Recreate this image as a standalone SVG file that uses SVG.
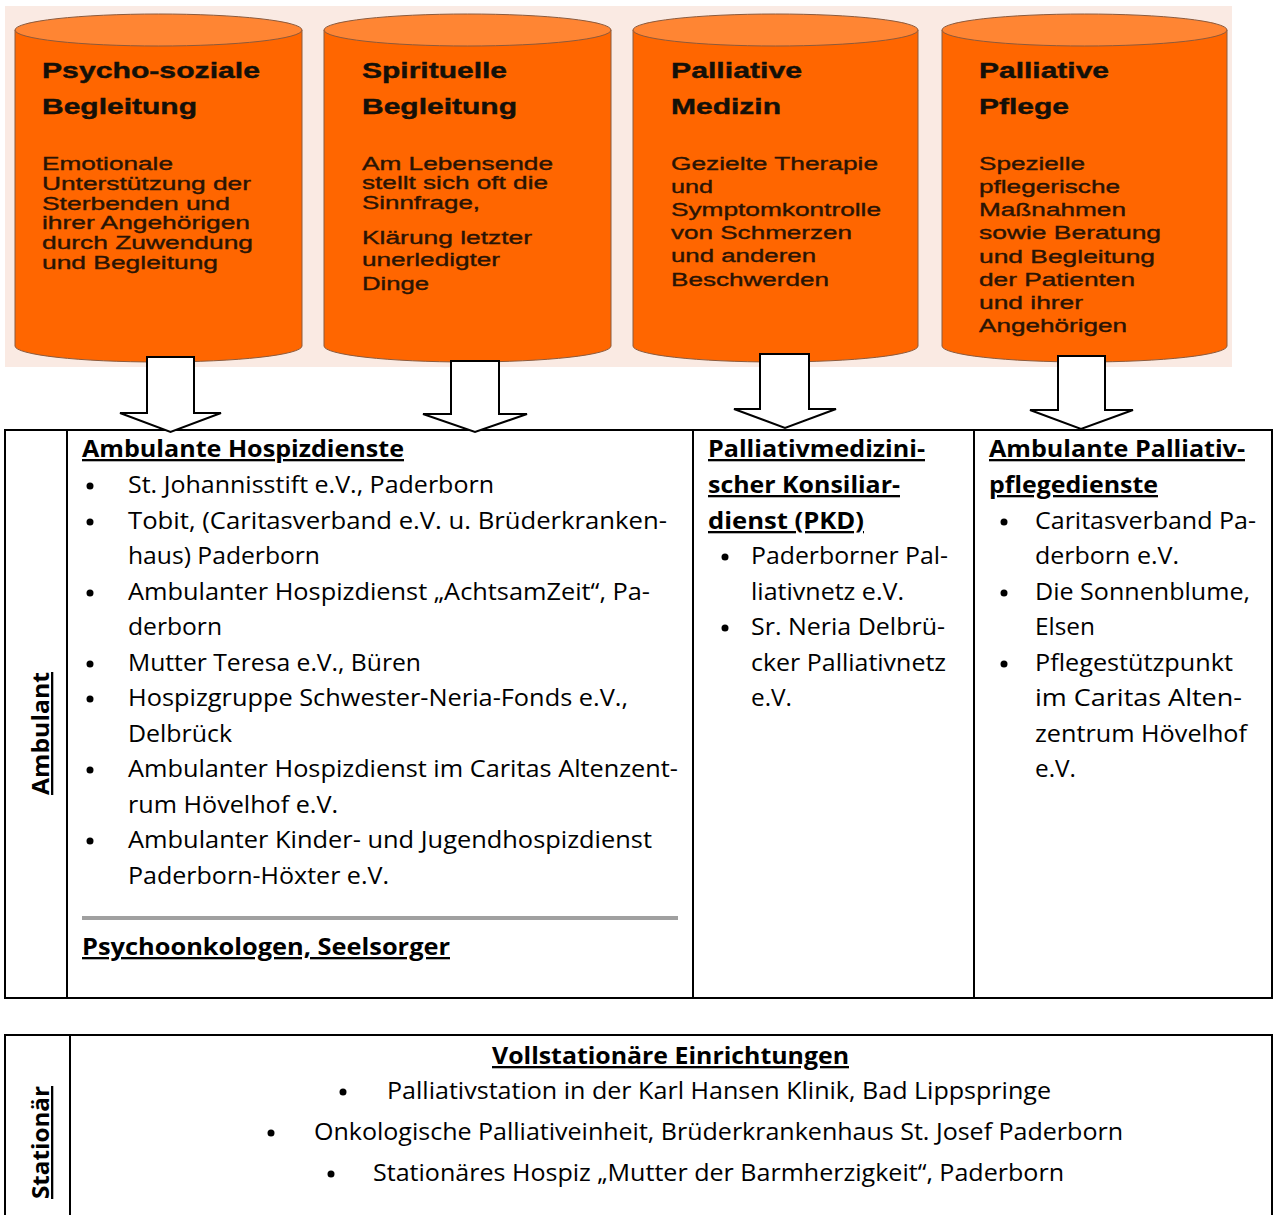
<svg xmlns="http://www.w3.org/2000/svg" width="1274" height="1215" viewBox="0 0 1274 1215">
<style>
.bg{fill:#FAEAE3}
.cyl-body{fill:#FF6600;stroke:#8C5A3C;stroke-width:1}
.cyl-top{fill:#FF8533;stroke:#8C5A3C;stroke-width:1}
.ct{font-family:"Liberation Sans",Arial,sans-serif;font-weight:bold;font-size:22px;fill:#141008;stroke:#141008;stroke-width:0.4}
.cb{font-family:"Liberation Sans",Arial,sans-serif;font-size:18px;fill:#2A1404;stroke:#2A1404;stroke-width:0.35}
.tt{font-family:"Open Sans","Noto Sans",sans-serif;font-size:23px;fill:#000}
.th{font-family:"Open Sans","Noto Sans",sans-serif;font-size:23px;font-weight:bold;fill:#000;text-decoration:underline}
.grid{fill:none;stroke:#000;stroke-width:2}
.arrow{fill:#fff;stroke:#000;stroke-width:2;stroke-linejoin:miter}
.sep{stroke:#A0A0A0;stroke-width:4}
.dot{fill:#000}
</style>
<rect x="0" y="0" width="1274" height="1215" fill="#fff"/>
<rect class="bg" x="5" y="6" width="1227" height="361"/>

<g id="cyl-psychosozial">
<path class="cyl-body" d="M15,30 L15,346 A143.5,16 0 0 0 302,346 L302,30 Z"/>
<ellipse class="cyl-top" cx="158.5" cy="30" rx="143.5" ry="16"/>
<text class="ct" x="42" y="78" textLength="218" lengthAdjust="spacingAndGlyphs">Psycho-soziale</text>
<text class="ct" x="42" y="114" textLength="155" lengthAdjust="spacingAndGlyphs">Begleitung</text>
<text class="cb" x="42" y="170" textLength="131" lengthAdjust="spacingAndGlyphs">Emotionale</text>
<text class="cb" x="42" y="190" textLength="209" lengthAdjust="spacingAndGlyphs">Unterstützung der</text>
<text class="cb" x="42" y="210" textLength="188" lengthAdjust="spacingAndGlyphs">Sterbenden und</text>
<text class="cb" x="42" y="229" textLength="208" lengthAdjust="spacingAndGlyphs">ihrer Angehörigen</text>
<text class="cb" x="42" y="249" textLength="211" lengthAdjust="spacingAndGlyphs">durch Zuwendung</text>
<text class="cb" x="42" y="269" textLength="176" lengthAdjust="spacingAndGlyphs">und Begleitung</text>
</g>

<g id="cyl-spirituell">
<path class="cyl-body" d="M324,30 L324,346 A143.5,16 0 0 0 611,346 L611,30 Z"/>
<ellipse class="cyl-top" cx="467.5" cy="30" rx="143.5" ry="16"/>
<text class="ct" x="362" y="78" textLength="145" lengthAdjust="spacingAndGlyphs">Spirituelle</text>
<text class="ct" x="362" y="114" textLength="155" lengthAdjust="spacingAndGlyphs">Begleitung</text>
<text class="cb" x="362" y="170" textLength="191" lengthAdjust="spacingAndGlyphs">Am Lebensende</text>
<text class="cb" x="362" y="189" textLength="186" lengthAdjust="spacingAndGlyphs">stellt sich oft die</text>
<text class="cb" x="362" y="209" textLength="118" lengthAdjust="spacingAndGlyphs">Sinnfrage,</text>
<text class="cb" x="362" y="244" textLength="170" lengthAdjust="spacingAndGlyphs">Klärung letzter</text>
<text class="cb" x="362" y="266" textLength="138" lengthAdjust="spacingAndGlyphs">unerledigter</text>
<text class="cb" x="362" y="290" textLength="67" lengthAdjust="spacingAndGlyphs">Dinge</text>
</g>

<g id="cyl-medizin">
<path class="cyl-body" d="M633,30 L633,346 A142.5,16 0 0 0 918,346 L918,30 Z"/>
<ellipse class="cyl-top" cx="775.5" cy="30" rx="142.5" ry="16"/>
<text class="ct" x="671" y="78" textLength="131" lengthAdjust="spacingAndGlyphs">Palliative</text>
<text class="ct" x="671" y="114" textLength="110" lengthAdjust="spacingAndGlyphs">Medizin</text>
<text class="cb" x="671" y="170" textLength="207" lengthAdjust="spacingAndGlyphs">Gezielte Therapie</text>
<text class="cb" x="671" y="193" textLength="42" lengthAdjust="spacingAndGlyphs">und</text>
<text class="cb" x="671" y="216" textLength="210" lengthAdjust="spacingAndGlyphs">Symptomkontrolle</text>
<text class="cb" x="671" y="239" textLength="181" lengthAdjust="spacingAndGlyphs">von Schmerzen</text>
<text class="cb" x="671" y="262" textLength="145" lengthAdjust="spacingAndGlyphs">und anderen</text>
<text class="cb" x="671" y="286" textLength="158" lengthAdjust="spacingAndGlyphs">Beschwerden</text>
</g>

<g id="cyl-pflege">
<path class="cyl-body" d="M942,30 L942,346 A142.5,16 0 0 0 1227,346 L1227,30 Z"/>
<ellipse class="cyl-top" cx="1084.5" cy="30" rx="142.5" ry="16"/>
<text class="ct" x="979" y="78" textLength="130" lengthAdjust="spacingAndGlyphs">Palliative</text>
<text class="ct" x="979" y="114" textLength="90" lengthAdjust="spacingAndGlyphs">Pflege</text>
<text class="cb" x="979" y="170" textLength="106" lengthAdjust="spacingAndGlyphs">Spezielle</text>
<text class="cb" x="979" y="193" textLength="141" lengthAdjust="spacingAndGlyphs">pflegerische</text>
<text class="cb" x="979" y="216" textLength="147" lengthAdjust="spacingAndGlyphs">Maßnahmen</text>
<text class="cb" x="979" y="239" textLength="182" lengthAdjust="spacingAndGlyphs">sowie Beratung</text>
<text class="cb" x="979" y="263" textLength="176" lengthAdjust="spacingAndGlyphs">und Begleitung</text>
<text class="cb" x="979" y="286" textLength="156" lengthAdjust="spacingAndGlyphs">der Patienten</text>
<text class="cb" x="979" y="309" textLength="104" lengthAdjust="spacingAndGlyphs">und ihrer</text>
<text class="cb" x="979" y="332" textLength="148" lengthAdjust="spacingAndGlyphs">Angehörigen</text>
</g>

<g id="table-ambulant">
<rect class="grid" x="5" y="430" width="1267" height="568"/>
<line class="grid" x1="67" y1="430" x2="67" y2="998"/>
<line class="grid" x1="693" y1="430" x2="693" y2="998"/>
<line class="grid" x1="974" y1="430" x2="974" y2="998"/>
<text class="th" transform="translate(49,733.5) rotate(-90)" text-anchor="middle" textLength="123" lengthAdjust="spacingAndGlyphs">Ambulant</text>
</g>

<g id="cell-hospizdienste">
<text class="th" x="82" y="457" textLength="322" lengthAdjust="spacingAndGlyphs">Ambulante Hospizdienste</text>
<circle class="dot" cx="90" cy="486" r="3.5"/>
<circle class="dot" cx="90" cy="522" r="3.5"/>
<circle class="dot" cx="90" cy="593" r="3.5"/>
<circle class="dot" cx="90" cy="664" r="3.5"/>
<circle class="dot" cx="90" cy="699" r="3.5"/>
<circle class="dot" cx="90" cy="770" r="3.5"/>
<circle class="dot" cx="90" cy="841" r="3.5"/>
<text class="tt" x="128" y="493" textLength="366" lengthAdjust="spacingAndGlyphs">St. Johannisstift e.V., Paderborn</text>
<text class="tt" x="128" y="529" textLength="539" lengthAdjust="spacingAndGlyphs">Tobit, (Caritasverband e.V. u. Brüderkranken-</text>
<text class="tt" x="128" y="564" textLength="192" lengthAdjust="spacingAndGlyphs">haus) Paderborn</text>
<text class="tt" x="128" y="600" textLength="522" lengthAdjust="spacingAndGlyphs">Ambulanter Hospizdienst „AchtsamZeit“, Pa-</text>
<text class="tt" x="128" y="635" textLength="94" lengthAdjust="spacingAndGlyphs">derborn</text>
<text class="tt" x="128" y="671" textLength="293" lengthAdjust="spacingAndGlyphs">Mutter Teresa e.V., Büren</text>
<text class="tt" x="128" y="706" textLength="500" lengthAdjust="spacingAndGlyphs">Hospizgruppe Schwester-Neria-Fonds e.V.,</text>
<text class="tt" x="128" y="742" textLength="104" lengthAdjust="spacingAndGlyphs">Delbrück</text>
<text class="tt" x="128" y="777" textLength="550" lengthAdjust="spacingAndGlyphs">Ambulanter Hospizdienst im Caritas Altenzent-</text>
<text class="tt" x="128" y="813" textLength="210" lengthAdjust="spacingAndGlyphs">rum Hövelhof e.V.</text>
<text class="tt" x="128" y="848" textLength="524" lengthAdjust="spacingAndGlyphs">Ambulanter Kinder- und Jugendhospizdienst</text>
<text class="tt" x="128" y="884" textLength="261" lengthAdjust="spacingAndGlyphs">Paderborn-Höxter e.V.</text>
<line class="sep" x1="82" y1="918" x2="678" y2="918"/>
<text class="th" x="82" y="955" textLength="368" lengthAdjust="spacingAndGlyphs">Psychoonkologen, Seelsorger</text>
</g>

<g id="cell-pkd">
<text class="th" x="708" y="457" textLength="217" lengthAdjust="spacingAndGlyphs">Palliativmedizini-</text>
<text class="th" x="708" y="493" textLength="192" lengthAdjust="spacingAndGlyphs">scher Konsiliar-</text>
<text class="th" x="708" y="529" textLength="156" lengthAdjust="spacingAndGlyphs">dienst (PKD)</text>
<circle class="dot" cx="725" cy="557" r="3.5"/>
<circle class="dot" cx="725" cy="628" r="3.5"/>
<text class="tt" x="751" y="564" textLength="197" lengthAdjust="spacingAndGlyphs">Paderborner Pal-</text>
<text class="tt" x="751" y="600" textLength="153" lengthAdjust="spacingAndGlyphs">liativnetz e.V.</text>
<text class="tt" x="751" y="635" textLength="194" lengthAdjust="spacingAndGlyphs">Sr. Neria Delbrü-</text>
<text class="tt" x="751" y="671" textLength="195" lengthAdjust="spacingAndGlyphs">cker Palliativnetz</text>
<text class="tt" x="751" y="706" textLength="41" lengthAdjust="spacingAndGlyphs">e.V.</text>
</g>

<g id="cell-pflegedienste">
<text class="th" x="989" y="457" textLength="256" lengthAdjust="spacingAndGlyphs">Ambulante Palliativ-</text>
<text class="th" x="989" y="493" textLength="169" lengthAdjust="spacingAndGlyphs">pflegedienste</text>
<circle class="dot" cx="1004" cy="522" r="3.5"/>
<circle class="dot" cx="1004" cy="593" r="3.5"/>
<circle class="dot" cx="1004" cy="664" r="3.5"/>
<text class="tt" x="1035" y="529" textLength="221" lengthAdjust="spacingAndGlyphs">Caritasverband Pa-</text>
<text class="tt" x="1035" y="564" textLength="144" lengthAdjust="spacingAndGlyphs">derborn e.V.</text>
<text class="tt" x="1035" y="600" textLength="215" lengthAdjust="spacingAndGlyphs">Die Sonnenblume,</text>
<text class="tt" x="1035" y="635" textLength="60" lengthAdjust="spacingAndGlyphs">Elsen</text>
<text class="tt" x="1035" y="671" textLength="198" lengthAdjust="spacingAndGlyphs">Pflegestützpunkt</text>
<text class="tt" x="1035" y="706" textLength="207" lengthAdjust="spacingAndGlyphs">im Caritas Alten-</text>
<text class="tt" x="1035" y="742" textLength="212" lengthAdjust="spacingAndGlyphs">zentrum Hövelhof</text>
<text class="tt" x="1035" y="777" textLength="41" lengthAdjust="spacingAndGlyphs">e.V.</text>
</g>

<g id="table-stationaer">
<path class="grid" d="M5,1215 L5,1035 L1272,1035 L1272,1215"/>
<line class="grid" x1="70" y1="1035" x2="70" y2="1215"/>
<text class="th" transform="translate(49,1142.5) rotate(-90)" text-anchor="middle" textLength="113" lengthAdjust="spacingAndGlyphs">Stationär</text>
</g>

<g id="cell-vollstationaer">
<text class="th" x="492" y="1064" textLength="357" lengthAdjust="spacingAndGlyphs">Vollstationäre Einrichtungen</text>
<circle class="dot" cx="343" cy="1092" r="3.5"/>
<circle class="dot" cx="271" cy="1133" r="3.5"/>
<circle class="dot" cx="331" cy="1174" r="3.5"/>
<text class="tt" x="387" y="1099" textLength="664" lengthAdjust="spacingAndGlyphs">Palliativstation in der Karl Hansen Klinik, Bad Lippspringe</text>
<text class="tt" x="314" y="1140" textLength="809" lengthAdjust="spacingAndGlyphs">Onkologische Palliativeinheit, Brüderkrankenhaus St. Josef Paderborn</text>
<text class="tt" x="373" y="1181" textLength="691" lengthAdjust="spacingAndGlyphs">Stationäres Hospiz „Mutter der Barmherzigkeit“, Paderborn</text>
</g>

<g id="connectors">
<polygon class="arrow" points="147,357 194,357 194,413 221,413 170.5,432 120,413 147,413"/>
<polygon class="arrow" points="451,361 499,361 499,414 527,414 475,432 423,414 451,414"/>
<polygon class="arrow" points="760,354 809,354 809,409 836,409 785,428 734,409 760,409"/>
<polygon class="arrow" points="1058,356 1105,356 1105,410 1133,410 1081,429 1030,410 1058,410"/>
</g>
</svg>
